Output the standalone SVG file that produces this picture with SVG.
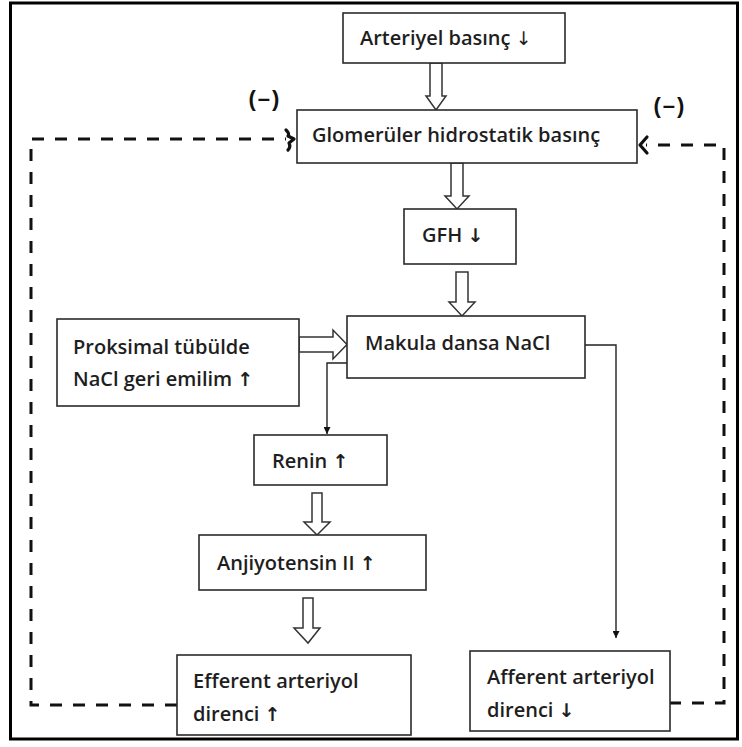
<svg xmlns="http://www.w3.org/2000/svg" width="742" height="747" viewBox="0 0 742 747">
<defs>
<style>
.box{fill:#fff;stroke:#2a2a2a;stroke-width:1.6}
.t{font-family:"Open Sans","Liberation Sans",sans-serif;font-weight:600;font-size:20px;fill:#1e1e1e}
.ar{font-family:"DejaVu Sans",sans-serif;font-weight:700;font-size:19px}
.arl{font-family:"DejaVu Sans",sans-serif;font-weight:400;font-size:19px}
.blk{fill:#fff;stroke:#333;stroke-width:1.5;stroke-linejoin:miter}
.thin{fill:none;stroke:#222;stroke-width:1.4}
.dash{fill:none;stroke:#111;stroke-width:3;stroke-dasharray:12 11}
.hand{fill:none;stroke:#111;stroke-width:3.2;stroke-linecap:round;stroke-linejoin:round}
.lbl{font-family:"Liberation Sans","DejaVu Sans",sans-serif;font-weight:700;font-size:22px;fill:#111;letter-spacing:2px}
</style>
<marker id="ah" viewBox="0 0 10 10" refX="10" refY="5" markerWidth="7" markerHeight="7" orient="auto" markerUnits="userSpaceOnUse">
<path d="M0,0 L10,5 L0,10 z" fill="#111"/>
</marker>
</defs>
<rect x="0" y="0" width="742" height="747" fill="#fff"/>
<rect x="10.5" y="3" width="727" height="736" fill="none" stroke="#000" stroke-width="3"/>

<g id="connectors">
<polygon class="blk" points="430,63 442,63 442,96 446,96 436,110 426,96 430,96"/>
<polygon class="blk" points="451,163 463,163 463,196 469,196 457,209 445,196 451,196"/>
<polygon class="blk" points="456,272 468,272 468,302 475,302 462,316 449,302 456,302"/>
<polygon class="blk" points="299,337 333,337 333,330 347,344.5 333,359 333,352 299,352"/>
<polygon class="blk" points="312,493 322,493 322,522 330,522 317,535 304,522 312,522"/>
<polygon class="blk" points="303,598 313,598 313,628 320,628 308,643 294,628 303,628"/>
<path class="thin" d="M347,363 H327 V434" marker-end="url(#ah)"/>
<path class="thin" d="M585,345 H616 V638" marker-end="url(#ah)"/>
<path class="dash" d="M177,705 H31 V139 H286"/>
<path class="hand" d="M286,130 Q290,134 288,136 L294,139 L289,143 Q291,147 288,150"/>
<path class="dash" d="M669,703 H724 V145 H646"/>
<path class="hand" d="M647,137 L640,145 L647,153"/>
<text class="lbl" x="265" y="106" text-anchor="middle">(–)</text>
<text class="lbl" x="670" y="113" text-anchor="middle">(–)</text>
</g>

<g id="n1"><rect class="box" x="343" y="13" width="222" height="50"/><text class="t" x="360" y="45">Arteriyel basınç <tspan class="arl">↓</tspan></text></g>
<g id="n2"><rect class="box" x="297" y="110" width="340" height="53"/><text class="t" x="312" y="142">Glomerüler hidrostatik basınç</text></g>
<g id="n3"><rect class="box" x="404" y="209" width="112" height="55"/><text class="t" x="422" y="242">GFH <tspan class="ar">↓</tspan></text></g>
<g id="n4"><rect class="box" x="347" y="316" width="238" height="62"/><text class="t" x="365" y="350">Makula dansa NaCl</text></g>
<g id="n5"><rect class="box" x="57" y="319" width="242" height="87"/><text class="t" x="73" y="354">Proksimal tübülde</text><text class="t" x="73" y="386">NaCl geri emilim <tspan class="ar">↑</tspan></text></g>
<g id="n6"><rect class="box" x="254" y="435" width="133" height="50"/><text class="t" x="272" y="468">Renin <tspan class="ar">↑</tspan></text></g>
<g id="n7"><rect class="box" x="199" y="535" width="227" height="55"/><text class="t" x="217" y="570">Anjiyotensin II <tspan class="ar">↑</tspan></text></g>
<g id="n8"><rect class="box" x="177" y="655" width="234" height="80"/><text class="t" x="193" y="688">Efferent arteriyol</text><text class="t" x="193" y="721">direnci <tspan class="ar">↑</tspan></text></g>
<g id="n9"><rect class="box" x="470" y="651" width="200" height="80"/><text class="t" x="487" y="684">Afferent arteriyol</text><text class="t" x="487" y="717">direnci <tspan class="ar">↓</tspan></text></g>
</svg>
